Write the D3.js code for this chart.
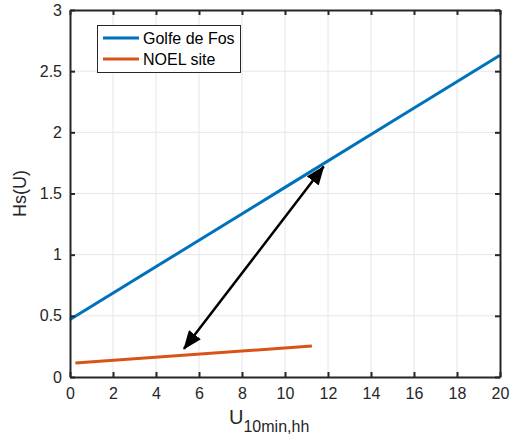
<!DOCTYPE html>
<html>
<head>
<meta charset="utf-8">
<script src="https://cdn.jsdelivr.net/npm/d3@7"></script>
<style>
  body { margin: 0; background: #fff; }
  svg { font-family: "Liberation Sans", Arial, sans-serif; }
</style>
</head>
<body>
<svg id="svg" width="516" height="440"></svg>
<script>
var xTicks = [0, 2, 4, 6, 8, 10, 12, 14, 16, 18, 20];
var yTicks = [0, 0.5, 1, 1.5, 2, 2.5, 3];

// Golfe de Fos
var fosU = [0, 5, 10, 15, 20];
var fosHs = [0.47, 1.01, 1.55, 2.09, 2.63];

// NOEL site
var noelU = [0.25, 11.25];
var noelHs = [0.114, 0.253];

// double arrow
var arrowU = [5.3, 11.8];
var arrowHs = [0.23, 1.72];

var seriesNames = ['Golfe de Fos', 'NOEL site'];
var seriesColors = ['#0072bd', '#d95319'];

var margin = { top: 10, right: 16, bottom: 63, left: 70 };
var svg = d3.select('#svg');
var width = 516, height = 440;
var innerW = width - margin.left - margin.right;
var innerH = height - margin.top - margin.bottom;

var x = d3.scaleLinear().domain([0, 20]).range([0, innerW]);
var y = d3.scaleLinear().domain([0, 3]).range([innerH, 0]);

var g = svg.append('g').attr('transform', 'translate(' + margin.left + ',' + margin.top + ')');

// grid
g.selectAll('.gx').data(xTicks.slice(1, -1)).enter().append('line')
  .attr('x1', d => x(d)).attr('x2', d => x(d))
  .attr('y1', 0).attr('y2', innerH)
  .style('stroke', '#e6e6e6').style('stroke-width', 1);
g.selectAll('.gy').data(yTicks.slice(1, -1)).enter().append('line')
  .attr('y1', d => y(d)).attr('y2', d => y(d))
  .attr('x1', 0).attr('x2', innerW)
  .style('stroke', '#e6e6e6').style('stroke-width', 1);

var line = d3.line().x(d => x(d[0])).y(d => y(d[1]));

g.append('path')
  .attr('d', line(d3.zip(fosU, fosHs)))
  .style('fill', 'none').style('stroke', seriesColors[0]).style('stroke-width', 3);
g.append('path')
  .attr('d', line(d3.zip(noelU, noelHs)))
  .style('fill', 'none').style('stroke', seriesColors[1]).style('stroke-width', 3);

// arrow heads
var defs = svg.append('defs');
['s', 'e'].forEach(function(k) {
  defs.append('marker')
    .attr('id', 'arr-' + k)
    .attr('viewBox', '0 0 19 15')
    .attr('refX', 18).attr('refY', 7.5)
    .attr('markerWidth', 19).attr('markerHeight', 15)
    .attr('markerUnits', 'userSpaceOnUse')
    .attr('orient', k == 's' ? 'auto-start-reverse' : 'auto')
    .append('path').attr('d', 'M0,0 L19,7.5 L0,15 Z').style('fill', '#000');
});
g.append('line')
  .attr('x1', x(arrowU[0])).attr('y1', y(arrowHs[0]))
  .attr('x2', x(arrowU[1])).attr('y2', y(arrowHs[1]))
  .style('stroke', '#000').style('stroke-width', 2.5)
  .attr('marker-start', 'url(#arr-s)')
  .attr('marker-end', 'url(#arr-e)');

// axes (ticks inside, box)
var xAxis = g.append('g').attr('transform', 'translate(0,' + innerH + ')')
  .call(d3.axisBottom(x).tickValues(xTicks).tickSize(-5).tickPadding(11).tickSizeOuter(0));
var yAxis = g.append('g')
  .call(d3.axisLeft(y).tickValues(yTicks).tickSize(-5).tickPadding(8).tickSizeOuter(0)
    .tickFormat(d3.format('')));
var xTop = g.append('g')
  .call(d3.axisTop(x).tickValues(xTicks).tickSize(-5).tickSizeOuter(0).tickFormat(''));
var yRight = g.append('g').attr('transform', 'translate(' + innerW + ',0)')
  .call(d3.axisRight(y).tickValues(yTicks).tickSize(-5).tickSizeOuter(0).tickFormat(''));

[xAxis, yAxis, xTop, yRight].forEach(function(a) {
  a.select('.domain').style('stroke', '#262626').style('stroke-width', 2);
  a.selectAll('.tick line').style('stroke', '#262626').style('stroke-width', 2);
  a.selectAll('.tick text').style('font-size', '16px').style('fill', '#262626')
    .style('font-family', '"Liberation Sans", Arial, sans-serif');
});

// legend
var leg = svg.append('g');
leg.append('rect')
  .attr('x', 97.5).attr('y', 25.5).attr('width', 143).attr('height', 47)
  .style('fill', '#fff').style('stroke', '#262626').style('stroke-width', 1);
seriesNames.forEach(function(name, i) {
  var ly = 38 + i * 21;
  leg.append('line')
    .attr('x1', 103).attr('x2', 139).attr('y1', ly).attr('y2', ly)
    .style('stroke', seriesColors[i]).style('stroke-width', 3);
  leg.append('text')
    .attr('x', 143).attr('y', ly + 5.5)
    .style('font-size', '16px').style('fill', '#000')
    .text(name);
});

// axis labels
svg.append('text')
  .attr('transform', 'translate(26,' + (margin.top + innerH / 2) + ') rotate(-90)')
  .attr('text-anchor', 'middle')
  .style('font-size', '18px').style('fill', '#262626')
  .text('Hs(U)');

var xl = svg.append('text')
  .attr('x', 229).attr('y', 424)
  .style('font-size', '20px').style('fill', '#262626');
xl.append('tspan').text('U');
xl.append('tspan').attr('dy', 8).style('font-size', '16px').text('10min,hh');
</script>
</body>
</html>
